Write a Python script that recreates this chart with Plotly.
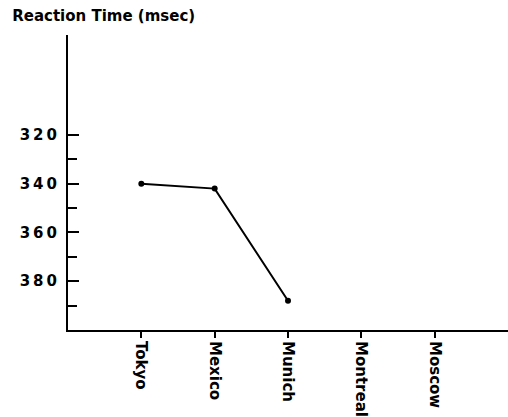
import plotly.graph_objects as go

cities = ["Tokyo", "Mexico", "Munich", "Montreal", "Moscow"]
reaction_ms = [340, 342, 388, None, None]
major_ticks = [320, 340, 360, 380]
minor_ticks = [330, 350, 370, 390]

fig = go.Figure()
fig.add_trace(go.Scatter(
    x=cities, y=reaction_ms, mode="lines+markers",
    line=dict(color="black", width=2),
    marker=dict(color="black", size=6),
    connectgaps=False, showlegend=False,
))

fig.update_layout(
    width=508, height=417,
    margin=dict(l=68, r=0, t=35, b=84),
    paper_bgcolor="white", plot_bgcolor="white",
    font=dict(family="DejaVu Sans", color="black"),
    title=dict(text="<b>Reaction Time (msec)</b>", x=0.024, xanchor="left",
               y=0.962, yanchor="middle", font=dict(size=15, color="black")),
)
fig.update_xaxes(
    type="category", categoryorder="array", categoryarray=cities,
    range=[-1, 5], showgrid=False, zeroline=False,
    showline=True, linecolor="black", linewidth=2,
    ticks="outside", ticklen=6, tickwidth=2, tickcolor="black",
    tickangle=90, tickfont=dict(size=15, family="DejaVu Sans", weight="bold"),
)
fig.update_yaxes(
    range=[400, 279], showgrid=False, zeroline=False,
    showline=True, linecolor="black", linewidth=2,
    tickvals=major_ticks, ticktext=["\u2009".join(str(v)) for v in major_ticks],
    ticks="inside", ticklen=11, tickwidth=2, tickcolor="black",
    ticklabelstandoff=6,
    tickfont=dict(size=15, family="DejaVu Sans", weight="bold"),
    minor=dict(tickvals=minor_ticks, ticks="inside", ticklen=9,
               tickwidth=2, tickcolor="black", showgrid=False),
)

fig.write_html("out.html")
